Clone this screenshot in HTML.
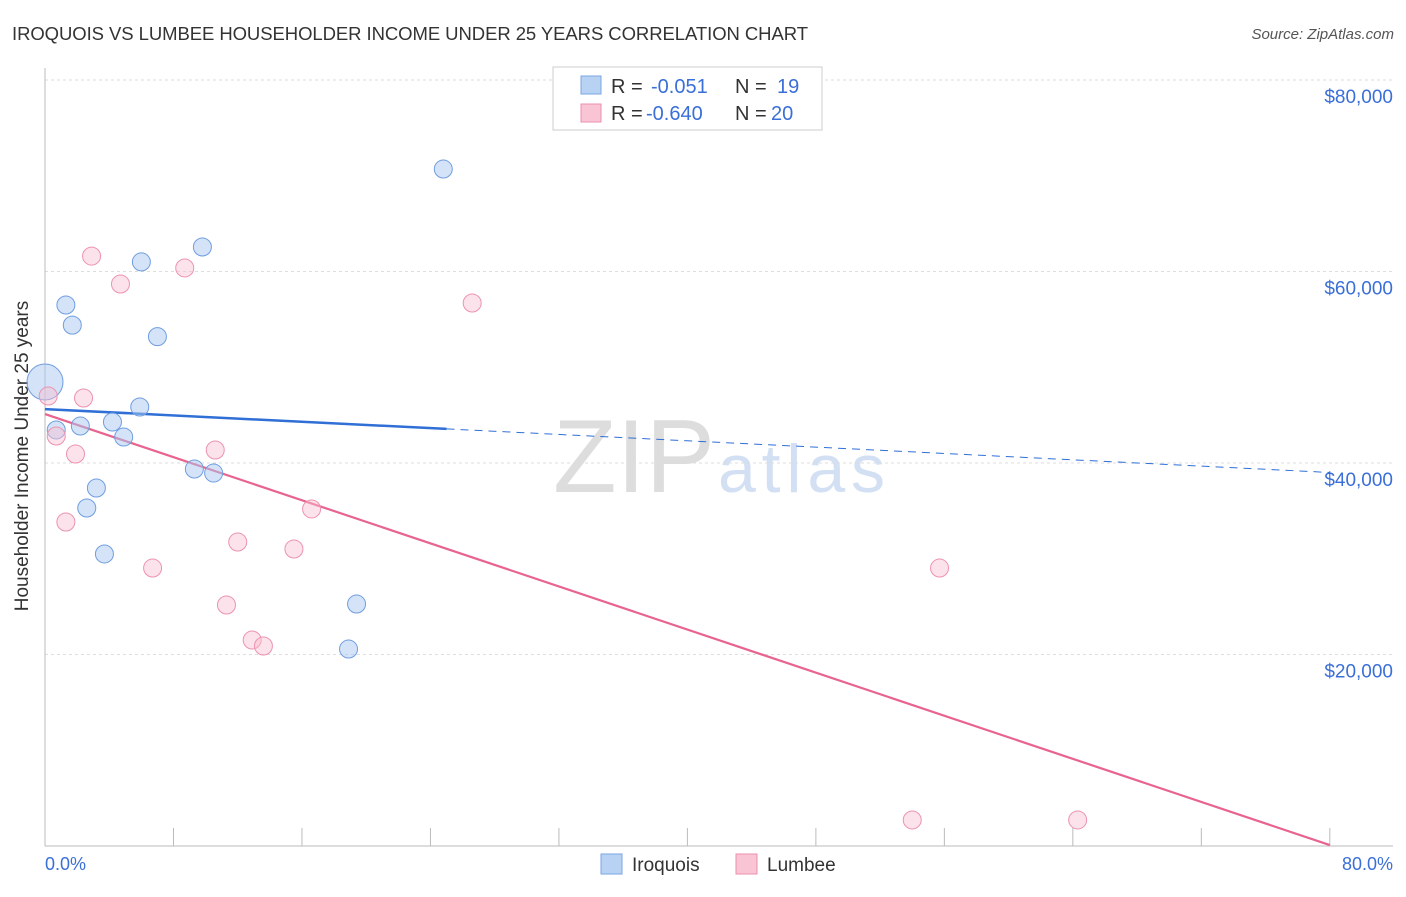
<!DOCTYPE html>
<html><head><meta charset="utf-8"><style>
body{margin:0;background:#fff;font-family:"Liberation Sans",sans-serif;}
svg text{font-family:"Liberation Sans",sans-serif;}
</style></head><body>
<svg id="c" width="1406" height="892" xmlns="http://www.w3.org/2000/svg">
<text x="12" y="40" font-size="18.5" fill="#333" textLength="796">IROQUOIS VS LUMBEE HOUSEHOLDER INCOME UNDER 25 YEARS CORRELATION CHART</text>
<text x="1394" y="39" font-size="15" fill="#555" font-style="italic" text-anchor="end">Source: ZipAtlas.com</text>
<text x="553" y="492" font-size="104" fill="#ddd" font-family="Liberation Serif" textLength="162">ZIP</text>
<text x="718" y="492" font-size="68" fill="#d3e0f3" textLength="167">atlas</text>
<g id="grid"></g>
<line x1="45" y1="68" x2="45" y2="846" stroke="#bbb"/>
<line x1="45" y1="846" x2="1393" y2="846" stroke="#bbb"/>
<text x="28" y="456" font-size="19" fill="#333" text-anchor="middle" transform="rotate(-90 28 456)">Householder Income Under 25 years</text>
<text x="45" y="870" font-size="18" fill="#3a6fd8">0.0%</text>
<text x="1393" y="870" font-size="18" fill="#3a6fd8" text-anchor="end">80.0%</text>
<g id="lines"></g>
<g id="pts"></g>
<g>
<rect x="553" y="67" width="269" height="63" fill="#fff" stroke="#ccc"/>
<rect x="581" y="76" width="20" height="18" fill="#b8d2f4" stroke="#7aa5e0"/>
<rect x="581" y="104" width="20" height="18" fill="#f9c5d4" stroke="#ec8fae"/>
<text y="93" font-size="20" fill="#333"><tspan x="611">R =</tspan><tspan x="651" fill="#3a6fd8">-0.051</tspan><tspan x="735">N =</tspan><tspan x="777" fill="#3a6fd8">19</tspan></text>
<text y="120" font-size="20" fill="#333"><tspan x="611">R =</tspan><tspan x="646" fill="#3a6fd8">-0.640</tspan><tspan x="735">N =</tspan><tspan x="771" fill="#3a6fd8">20</tspan></text>
</g>
<g>
<rect x="601" y="854" width="21" height="20" fill="#b8d2f4" stroke="#7aa5e0"/>
<text x="632" y="871" font-size="19" fill="#333">Iroquois</text>
<rect x="736" y="854" width="21" height="20" fill="#f9c5d4" stroke="#ec8fae"/>
<text x="767" y="871" font-size="19" fill="#333">Lumbee</text>
</g>
</svg>
<script>
const yTicks=[20000,40000,60000,80000];
const yTickLabels=["$20,000","$40,000","$60,000","$80,000"];
const xTicks=[0,8,16,24,32,40,48,56,64,72,80];
const iroX=[24.8,9.8,6.0,1.3,1.7,7.0,0,5.9,4.2,0.7,2.2,4.9,9.3,10.5,3.2,2.6,3.7,19.4,18.9];
const iroY=[70700,62560,61000,56500,54400,53200,48460,45850,44280,43450,43860,42710,39370,38950,37390,35300,30500,25270,20570];
const iroR=[9,9,9,9,9,9,18,9,9,9,9,9,9,9,9,9,9,9,9];
const lumX=[2.9,8.7,4.7,26.6,0.2,2.4,0.7,10.6,1.9,1.3,16.6,12.0,15.5,6.7,55.7,11.3,12.9,13.6,54.0,64.3];
const lumY=[61610,60370,58690,56710,47000,46790,42820,41360,40940,33840,35200,31750,31020,29030,29030,25170,21510,20890,2720,2720];
const iroTrend=[45630,39010];
const lumTrend=[45110,100];
const iroSolidEnd=25;
const NS="http://www.w3.org/2000/svg";
const X=p=>45+p*16.06, Y=v=>846-v/20000*191.5;
function mk(t,a,parent){const e=document.createElementNS(NS,t);for(const k in a)e.setAttribute(k,a[k]);document.getElementById(parent).appendChild(e);return e;}
yTicks.forEach((v,i)=>{
 const l=mk('line',{x1:45,x2:1393,y1:Y(v),y2:Y(v),stroke:'#ddd','stroke-dasharray':'3,3'},'grid');
 
 
 const t=mk('text',{x:1393,y:Y(v)+23,'font-size':19,fill:'#3a6fd8','text-anchor':'end'},'grid');
 t.textContent=yTickLabels[i];
 
 
});
xTicks.forEach(p=>{
 const l=mk('line',{x1:X(p),x2:X(p),y1:828,y2:846,stroke:'#bbb'},'grid');
 
 
});
const ty=(tr,p)=>tr[0]+(tr[1]-tr[0])*p/80;
let l=mk('line',{x1:X(0),y1:Y(ty(iroTrend,0)),x2:X(iroSolidEnd),y2:Y(ty(iroTrend,iroSolidEnd)),stroke:'#2f6fd6','stroke-width':2.5},'lines');


l=mk('line',{x1:X(iroSolidEnd),y1:Y(ty(iroTrend,iroSolidEnd)),x2:X(80),y2:Y(ty(iroTrend,80)),stroke:'#2f6fd6','stroke-width':1,'stroke-dasharray':'8,6'},'lines');


l=mk('line',{x1:X(0),y1:Y(ty(lumTrend,0)),x2:X(80),y2:Y(ty(lumTrend,80)),stroke:'#e8648f','stroke-width':2.2},'lines');


iroX.forEach((p,i)=>{
 const c=mk('circle',{cx:X(p),cy:Y(iroY[i]),r:iroR[i],fill:'rgba(170,200,240,0.5)',stroke:'#6f9ee0','stroke-width':1},'pts');
 
 
});
lumX.forEach((p,i)=>{
 const c=mk('circle',{cx:X(p),cy:Y(lumY[i]),r:9,fill:'rgba(248,190,208,0.45)',stroke:'#ec93b0','stroke-width':1},'pts');
 
 
});
</script>
</body></html>
